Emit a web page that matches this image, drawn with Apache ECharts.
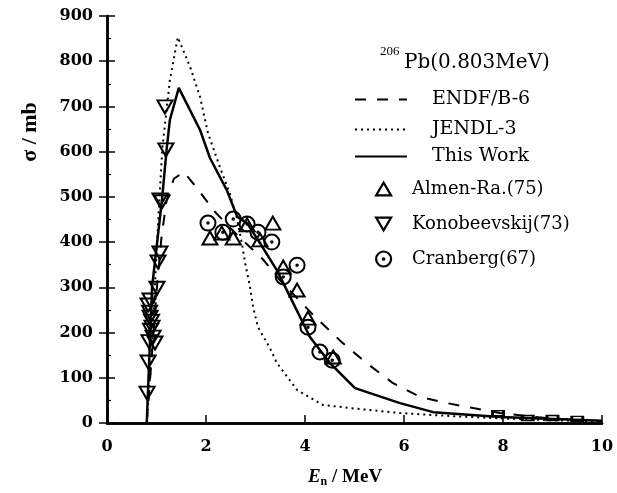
<!DOCTYPE html>
<html>
<head>
<meta charset="utf-8">
<script src="https://cdn.jsdelivr.net/npm/echarts@6/dist/echarts.min.js"></script>
<style>html,body{margin:0;padding:0;background:#fff;}#c{width:617px;height:493px;}</style>
</head>
<body>
<div id="c"></div>
<script>
// ---- data (E in MeV, sigma in mb) ----
var endfE = [0.803, 0.9, 1.0, 1.1, 1.2, 1.35, 1.55, 1.8, 2.18, 2.5, 2.8, 3.15, 3.5, 3.85, 4.2, 4.75, 5.25, 5.78, 6.32, 6.87, 7.4, 7.94, 8.5, 9.0, 10.0];
var endfS = [0, 140, 290, 410, 490, 540, 555, 522, 467, 430, 398, 362, 315, 275, 235, 178, 132, 88, 58, 44, 33, 22, 15, 10, 5];

var jendlE = [0.803, 0.9, 0.98, 1.05, 1.12, 1.27, 1.43, 1.68, 1.88, 2.04, 2.28, 2.48, 2.62, 2.73, 2.79, 2.89, 2.95, 3.05, 3.29, 3.43, 3.84, 4.36, 5.0, 5.92, 7.0, 8.0, 9.0, 10.0];
var jendlS = [0, 150, 330, 480, 610, 758, 853, 787, 721, 641, 566, 508, 455, 394, 354, 301, 257, 212, 166, 133, 73, 40, 32, 22, 15, 10, 6, 3];

var workE = [0.803, 0.91, 1.11, 1.21, 1.27, 1.45, 1.88, 2.08, 2.42, 2.63, 2.83, 3.09, 3.43, 3.7, 3.96, 4.1, 4.5, 5.01, 5.92, 6.59, 7.94, 10.0];
var workS = [0, 300, 493, 611, 670, 741, 648, 586, 515, 456, 442, 398, 338, 279, 221, 190, 133, 77, 44, 24, 13, 5];

var almenE = [2.08, 2.32, 2.55, 2.83, 3.35, 3.09, 3.56, 3.84, 4.06, 4.57];
var almenS = [409, 420, 409, 438, 442, 405, 345, 294, 232, 146];

var konoE = [0.81, 0.83, 0.85, 0.88, 0.86, 0.9, 0.97, 0.93, 0.91, 0.87, 0.83, 0.87, 1.01, 1.03, 1.07, 1.07, 1.11, 1.19, 1.17];
var konoS = [66, 135, 180, 205, 245, 225, 177, 190, 212, 234, 261, 272, 298, 356, 376, 493, 489, 604, 699];

var cranE = [2.04, 2.34, 2.55, 2.83, 3.05, 3.33, 3.56, 3.84, 4.06, 4.3, 4.55];
var cranS = [442, 422, 451, 440, 422, 400, 323, 349, 212, 157, 139];

var lowE = [7.9, 8.5, 9.0, 9.5];
var lowS = [22, 11, 11, 9];

var xTicks = [0, 2, 4, 6, 8, 10];
var yTicks = [0, 100, 200, 300, 400, 500, 600, 700, 800, 900];

function zip(a, b) { return a.map(function (v, i) { return [v, b[i]]; }); }

var triUp = 'path://M10,0 L20,17 L0,17 Z';
var triDown = 'path://M0,0 L20,0 L10,17 Z';
var circDot = 'path://M20,10 A10,10 0 1,1 0,10 A10,10 0 1,1 20,10 Z M11,10 A1,1 0 1,1 9,10 A1,1 0 1,1 11,10 Z';

var serif = 'DejaVu Serif';
var markerStyle = { color: 'rgba(255,255,255,0)', borderColor: '#000', borderWidth: 2, opacity: 1 };

var chart = echarts.init(document.getElementById('c'), null, { renderer: 'canvas' });

function legendRow(name, left, top, w, h, pad, fs, hideSymbol) {
  var lg = {
    data: [name], left: left, top: top, orient: 'vertical', padding: 0,
    itemWidth: w, itemHeight: h, selectedMode: false,
    textStyle: { fontFamily: serif, fontSize: fs, color: '#000', padding: [0, 0, 0, pad] }
  };
  if (hideSymbol) { lg.itemStyle = { opacity: 0, borderWidth: 0 }; }
  else { lg.itemStyle = { color: 'rgba(255,255,255,0)', borderColor: '#000', borderWidth: 2.2, opacity: 1 }; }
  return lg;
}

chart.setOption({
  animation: false,
  backgroundColor: '#fff',
  grid: { left: 107, right: 15, top: 16, bottom: 70 },
  xAxis: [{
    type: 'value', min: xTicks[0], max: xTicks[xTicks.length - 1], interval: 2,
    axisLine: { lineStyle: { color: '#000', width: 2.5 } },
    axisTick: { inside: true, length: 8, lineStyle: { color: '#000', width: 1.5 } },
    splitLine: { show: false },
    axisLabel: { margin: 16, color: '#000', fontFamily: serif, fontWeight: 'bold', fontSize: 16 }
  }, {
    type: 'value', position: 'top', min: 0, max: 10, interval: 2,
    axisLine: { lineStyle: { color: '#000', width: 2.5 } },
    axisTick: { show: false }, axisLabel: { show: false }, splitLine: { show: false }
  }],
  yAxis: [{
    type: 'value', min: yTicks[0], max: yTicks[yTicks.length - 1], interval: 100,
    axisLine: { show: true, lineStyle: { color: '#000', width: 2.5 } },
    axisTick: { inside: true, length: 8, lineStyle: { color: '#000', width: 1.5 } },
    minorTick: { show: true, splitNumber: 2, length: 4, lineStyle: { color: '#000', width: 1.2 } },
    splitLine: { show: false },
    axisLabel: { margin: 14, color: '#000', fontFamily: serif, fontWeight: 'bold', fontSize: 16 }
  }, {
    type: 'value', position: 'right', min: 0, max: 900, interval: 100,
    axisLine: { show: true, lineStyle: { color: '#000', width: 2.5 } },
    axisTick: { show: true, inside: true, length: 8, lineStyle: { color: '#000', width: 1.5 } },
    axisLabel: { show: false }, splitLine: { show: false }
  }],
  legend: [
    legendRow('ENDF/B-6', 354, 90, 52, 14, 20, 19, true),
    legendRow('JENDL-3', 354, 120, 52, 14, 20, 19, true),
    legendRow('This Work', 354, 147, 52, 14, 20, 19, true),
    legendRow('Almen-Ra.(75)', 375, 180, 15, 13, 16, 18, false),
    legendRow('Konobeevskij(73)', 375, 215, 15, 13, 16, 18, false),
    legendRow('Cranberg(67)', 375, 250, 15, 15, 16, 18, false)
  ],
  graphic: [
    { type: 'text', left: 380, top: 45, style: { text: '206', fontFamily: 'Liberation Serif', fontSize: 13, fill: '#000' } },
    { type: 'text', left: 404, top: 53, style: { text: 'Pb(0.803MeV)', fontFamily: serif, fontSize: 20, fill: '#000' } },
    { type: 'text', x: 30, y: 132, rotation: Math.PI / 2,
      style: { text: 'σ / mb', fontFamily: 'Liberation Serif', fontWeight: 'bold', fontSize: 22, fill: '#000', align: 'center', verticalAlign: 'middle' } },
    { type: 'text', x: 345, y: 477,
      style: {
        text: '{i|E}{s|n}{t| / MeV}', align: 'center', verticalAlign: 'middle',
        rich: {
          i: { fontFamily: 'Liberation Serif', fontStyle: 'italic', fontWeight: 'bold', fontSize: 19, fill: '#000' },
          s: { fontFamily: 'Liberation Serif', fontWeight: 'bold', fontSize: 12, fill: '#000', padding: [10, 0, 0, 0] },
          t: { fontFamily: 'Liberation Serif', fontWeight: 'bold', fontSize: 19, fill: '#000' }
        }
      } }
  ],
  series: [
    { name: 'ENDF/B-6', type: 'line', data: zip(endfE, endfS), symbol: 'none', z: 2,
      lineStyle: { color: '#000', width: 2, type: [11, 11] }, itemStyle: { color: '#000' } },
    { name: 'JENDL-3', type: 'line', data: zip(jendlE, jendlS), symbol: 'none', z: 2,
      lineStyle: { color: '#000', width: 2, type: [2, 4] }, itemStyle: { color: '#000' } },
    { name: 'This Work', type: 'line', data: zip(workE, workS), symbol: 'none', z: 3,
      lineStyle: { color: '#000', width: 2.5 }, itemStyle: { color: '#000' } },
    { name: 'Almen-Ra.(75)', type: 'scatter', data: zip(almenE, almenS), symbol: triUp, symbolSize: [15, 13], z: 5,
      itemStyle: markerStyle },
    { name: 'Konobeevskij(73)', type: 'scatter', data: zip(konoE, konoS), symbol: triDown, symbolSize: [15, 13], z: 5,
      itemStyle: markerStyle },
    { name: 'Cranberg(67)', type: 'scatter', data: zip(cranE, cranS), symbol: circDot, symbolSize: 15, z: 5,
      itemStyle: markerStyle },
    { name: 'low', type: 'scatter', data: zip(lowE, lowS), symbol: 'rect', symbolSize: [11, 5], z: 4,
      itemStyle: markerStyle }
  ]
});
</script>
</body>
</html>
